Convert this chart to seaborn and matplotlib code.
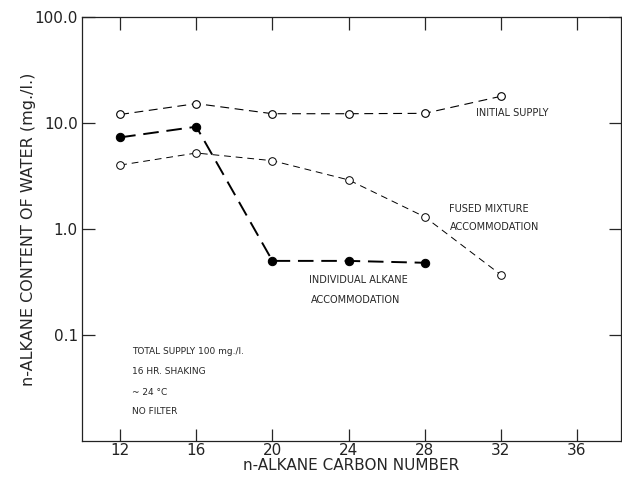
import numpy as np
import pandas as pd
import matplotlib
matplotlib.use("Agg")
import matplotlib.pyplot as plt
import seaborn as sns

# values (mg/l)
carbon_initial = [12, 16, 20, 24, 28, 32]
initial_supply = [12.0, 15.2, 12.2, 12.2, 12.3, 17.8]

carbon_fused = [12, 16, 20, 24, 28, 32]
fused_mixture = [4.0, 5.2, 4.4, 2.9, 1.3, 0.37]

carbon_indiv = [12, 16, 20, 24, 28]
individual_alkane = [7.3, 9.2, 0.50, 0.50, 0.48]

x_ticks = [12, 16, 20, 24, 28, 32, 36]
y_ticks = [0.1, 1.0, 10.0, 100.0]
y_tick_labels = ["0.1", "1.0", "10.0", "100.0"]

sns.set_style("ticks")
plt.rcParams["font.family"] = ["DejaVu Sans"]

fig = plt.figure(figsize=(6.22, 4.8), dpi=100)
ax = fig.add_axes([0.132, 0.081, 0.866, 0.884])

df_init = pd.DataFrame({"c": carbon_initial, "v": initial_supply})
df_fused = pd.DataFrame({"c": carbon_fused, "v": fused_mixture})
df_ind = pd.DataFrame({"c": carbon_indiv, "v": individual_alkane})

sns.lineplot(data=df_init, x="c", y="v", ax=ax, color="black", lw=0.8,
             marker="o", markersize=5.5, markerfacecolor="white",
             markeredgecolor="black", markeredgewidth=0.8)
ax.lines[-1].set_dashes([8, 5])
sns.lineplot(data=df_fused, x="c", y="v", ax=ax, color="black", lw=0.7,
             marker="o", markersize=5.5, markerfacecolor="white",
             markeredgecolor="black", markeredgewidth=0.7)
ax.lines[-1].set_dashes([7, 5])
sns.lineplot(data=df_ind, x="c", y="v", ax=ax, color="black", lw=1.4,
             marker="o", markersize=6, markerfacecolor="black",
             markeredgecolor="black")
ax.lines[-1].set_dashes([8, 4])

ax.set_yscale("log")
ax.set_ylim(0.01, 100)
ax.set_xlim(10, 38.3)
ax.set_xticks(x_ticks)
ax.set_xticklabels([str(t) for t in x_ticks], fontsize=11, color="#222222")
ax.set_yticks(y_ticks)
ax.set_yticklabels(y_tick_labels, fontsize=11, color="#222222")
ax.minorticks_off()
ax.tick_params(axis="both", which="major", direction="in", length=9,
               width=0.9, top=True, right=True, pad=3)
ax.tick_params(axis="x", pad=1)
for s in ax.spines.values():
    s.set_linewidth(0.9)
    s.set_color("#222222")

ax.set_xlabel("n-ALKANE CARBON NUMBER", fontsize=11, labelpad=0)
ax.set_ylabel("n-ALKANE CONTENT OF WATER (mg./l.)", fontsize=11.5, labelpad=-1)

fs = 7
ax.text(30.7, 11.5, "INITIAL SUPPLY", fontsize=fs)
ax.text(29.3, 1.45, "FUSED MIXTURE", fontsize=fs)
ax.text(29.3, 0.98, "ACCOMMODATION", fontsize=fs)
ax.text(21.9, 0.31, "INDIVIDUAL ALKANE", fontsize=fs)
ax.text(22.0, 0.202, "ACCOMMODATION", fontsize=fs)
ax.text(12.6, 0.066, "TOTAL SUPPLY 100 mg./l.", fontsize=fs - 0.5)
ax.text(12.6, 0.043, "16 HR. SHAKING", fontsize=fs - 0.5)
ax.text(12.6, 0.027, "~ 24 °C", fontsize=fs - 0.5)
ax.text(12.6, 0.018, "NO FILTER", fontsize=fs - 0.5)

fig.savefig("out.png", dpi=100)
